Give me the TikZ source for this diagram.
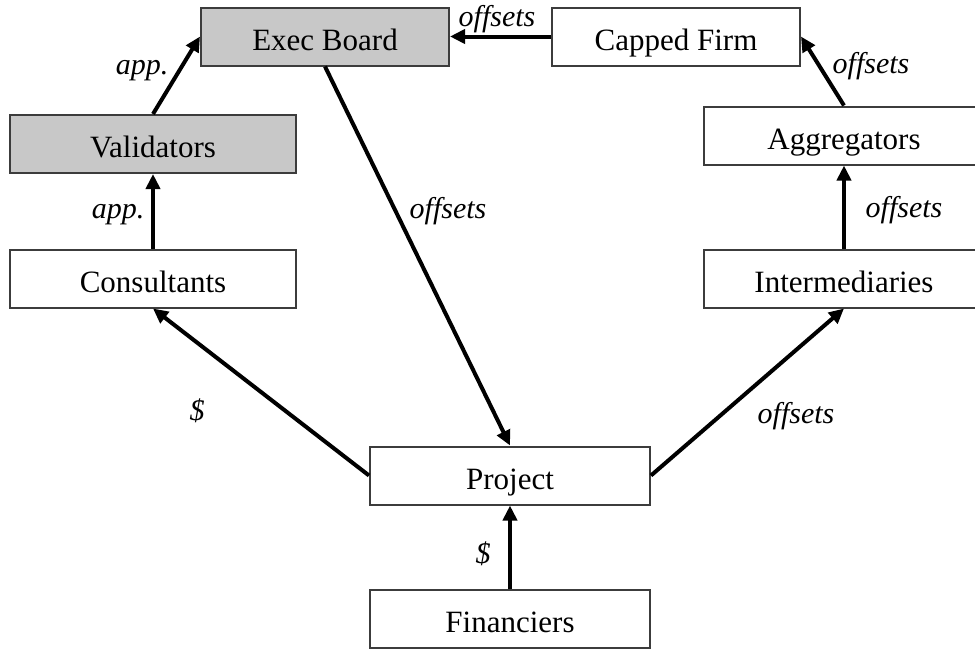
\documentclass[tikz,border=0pt]{standalone}
\usepackage{fontspec}
\setmainfont{Liberation Serif}
\usetikzlibrary{arrows.meta}
\definecolor{boxgray}{RGB}{200,200,200}
\definecolor{edgegray}{RGB}{60,60,60}
\begin{document}
\begin{tikzpicture}[x=1pt,y=-1pt,
  box/.style={draw=edgegray,line width=2pt,minimum width=#1,minimum height=58pt,inner sep=0pt,
    text height=27pt,text depth=0pt,font=\fontsize{31}{36}\selectfont},
  box/.default=280pt,
  graybox/.style={box=#1,fill=boxgray},
  flow/.style={line width=4pt,-{Triangle[length=15pt,width=14pt]}},
  lbl/.style={font=\fontsize{30}{34}\selectfont\itshape,anchor=base,inner sep=0pt}]
\useasboundingbox (0,0) rectangle (975,651);
\node[graybox=248pt] (eb) at (325,36.5) {Exec Board};
\node[box=248pt] (cf) at (676,36.5) {Capped Firm};
\node[graybox=286pt] (val) at (153,144) {Validators};
\node[box=280pt] (agg) at (844,135.5) {Aggregators};
\node[box=286pt] (con) at (153,278.5) {Consultants};
\node[box=280pt] (int) at (844,278.5) {Intermediaries};
\node[box=280pt] (proj) at (510,475.5) {Project};
\node[box=280pt] (fin) at (510,619) {Financiers};
\draw[flow] (val.north) -- (eb.west);
\draw[flow] (con.north) -- (val.south);
\draw[flow] (eb.south) -- (proj.north);
\draw[flow] (proj.west) -- (con.south);
\draw[flow] (proj.east) -- (int.south);
\draw[flow] (fin.north) -- (proj.south);
\draw[flow] (int.north) -- (agg.south);
\draw[flow] (agg.north) -- (cf.east);
\draw[flow] (cf.west) -- (eb.east);
\node[lbl] (l1) at (142,74) {app.};
\node[lbl] (l2) at (118,218) {app.};
\node[lbl] (l3) at (448,218) {offsets};
\node[lbl] (l4) at (497,26) {offsets};
\node[lbl] (l5) at (871,73) {offsets};
\node[lbl] (l6) at (904,217) {offsets};
\node[lbl] (l7) at (197,420) {\$};
\node[lbl] (l8) at (796,423) {offsets};
\node[lbl] (l9) at (483,563) {\$};
\end{tikzpicture}
\end{document}
